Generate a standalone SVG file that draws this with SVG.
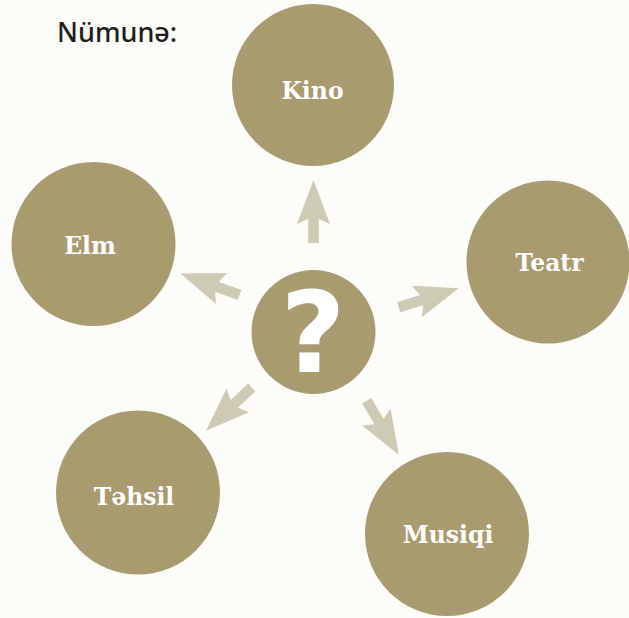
<svg xmlns="http://www.w3.org/2000/svg" width="629" height="618" viewBox="0 0 629 618">
<defs>
<style>
.node{fill:#A99A6F}
.lbl{font-family:"DejaVu Serif","Liberation Serif",serif;font-weight:bold;font-size:23.5px;fill:#FFFFFF;text-anchor:middle}
.arr{fill:#CECBB5}
</style>
<path id="arrow" d="M0,-5.3 L24,-5.3 L19,-16.5 L63,0 L19,16.5 L24,5.3 L0,5.3 Z"/>
</defs>
<rect width="629" height="618" fill="#FDFCF8"/>
<text x="57" y="42" font-family="'Noto Sans','Liberation Sans',sans-serif" font-size="27" font-weight="500" fill="#1E1E1E">Nümunə:</text>
<g id="connectors" class="arr">
<use href="#arrow" transform="translate(313.5,243) rotate(-90)"/>
<use href="#arrow" transform="translate(398.7,307.3) rotate(-17.5)"/>
<use href="#arrow" transform="translate(239.5,295) rotate(200)"/>
<use href="#arrow" transform="translate(251.7,387.3) rotate(136.5)"/>
<use href="#arrow" transform="translate(366.7,400.8) rotate(59.3)"/>
</g>
<g id="center">
<circle class="node" cx="313.5" cy="332" r="62"/>
<text x="313" y="372" font-family="'DejaVu Sans',sans-serif" font-weight="bold" font-size="112" fill="#FFFFFF" text-anchor="middle">?</text>
</g>
<g id="kino">
<circle class="node" cx="313" cy="85" r="81"/>
<text class="lbl" x="312.5" y="99">Kino</text>
</g>
<g id="elm">
<circle class="node" cx="93.5" cy="244" r="82"/>
<text class="lbl" x="90" y="254">Elm</text>
</g>
<g id="teatr">
<circle class="node" cx="548" cy="262" r="81.5"/>
<text class="lbl" x="549.5" y="271">Teatr</text>
</g>
<g id="tehsil">
<circle class="node" cx="138" cy="492.5" r="82"/>
<text class="lbl" x="134" y="504.5">Təhsil</text>
</g>
<g id="musiqi">
<circle class="node" cx="447" cy="534" r="82"/>
<text class="lbl" x="448" y="542.5">Musiqi</text>
</g>
</svg>
